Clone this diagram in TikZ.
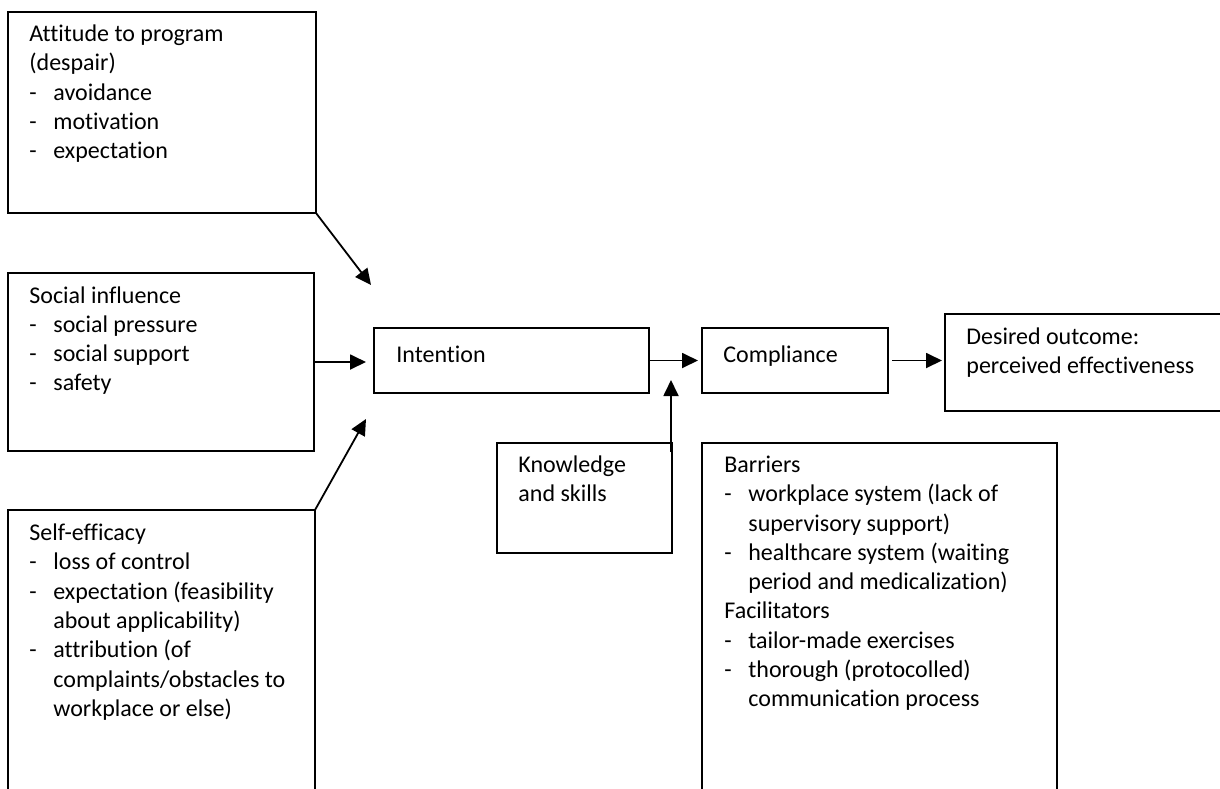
\documentclass[tikz,border=0pt]{standalone}
\usepackage{fontspec}
\setmainfont{Carlito}[Ligatures=NoCommon]
\usetikzlibrary{arrows.meta}
\newcommand\itm{\makebox[12pt][l]{-}}
\newcommand\ind{\hspace*{12pt}}
\begin{document}
\begin{tikzpicture}[x=0.5pt,y=-0.5pt,
  box/.style={draw,line width=0.9pt,anchor=north west,inner sep=0pt,outer sep=0pt},
  txt/.style={anchor=north west,inner sep=0pt,align=left,
    font=\fontsize{12pt}{14.65pt}\selectfont,execute at begin node=\strut},
  arr/.style={line width=0.9pt,-{Triangle[length=8pt,width=7.5pt]}}]
\useasboundingbox (0,0) rectangle (1220,788);
\clip (0,0) rectangle (1220,788);

% boxes
\node[box,minimum width=154pt,minimum height=100.5pt] (att) at (8,12) {};
\node[box,minimum width=153pt,minimum height=89pt] (soc) at (8,273) {};
\node[box,minimum width=153.5pt,minimum height=150pt] (self) at (8,510) {};
\node[box,minimum width=137.5pt,minimum height=32.5pt] (int) at (374,328) {};
\node[box,minimum width=93pt,minimum height=32.5pt] (comp) at (702,328) {};
\node[box,minimum width=150pt,minimum height=48.5pt] (out) at (945,314) {};
\node[box,minimum width=87.5pt,minimum height=55pt] (know) at (497,443) {};
\node[box,minimum width=177.5pt,minimum height=180pt] (bar) at (702,443) {};

% texts
\node[txt] (att-t) at (29,24.5) {Attitude to program\\(despair)\\\itm avoidance\\\itm motivation\\\itm expectation};
\node[txt] (soc-t) at (29,286) {Social influence\\\itm social pressure\\\itm social support\\\itm safety};
\node[txt] (self-t) at (29,523.5) {Self-efficacy\\\itm loss of control\\\itm expectation (feasibility\\\ind about applicability)\\\itm attribution (of\\\ind complaints/obstacles to\\\ind workplace or else)};
\node[txt] (int-t) at (396,341.5) {Intention};
\node[txt] (comp-t) at (723,342) {Compliance};
\node[txt] (out-t) at (966,327) {Desired outcome:\\perceived effectiveness};
\node[txt] (know-t) at (518,455.5) {Knowledge\\and skills};
\node[txt] (bar-t) at (724,455.5) {Barriers\\\itm workplace system (lack of\\\ind supervisory support)\\\itm healthcare system (waiting\\\ind period and medicalization)\\Facilitators\\\itm tailor-made exercises\\\itm thorough (protocolled)\\\ind communication process};

% free arrow ends near the intention box
\coordinate (attTip) at (371,285);
\coordinate (selfTip) at (366,419);
\coordinate (knowTip) at (671,380);

% connectors
\draw[arr] (att.south east) -- (attTip);
\draw[arr] (soc.east) -- ++(52,0);
\draw[arr] (self.north east) -- (selfTip);
\draw[arr] (int.east) -- ([xshift=-2pt]comp.west);
\draw[arr] ([xshift=-0.5pt,yshift=-4.5pt]know.north east) -- (knowTip);
\draw[arr] ([xshift=2pt]comp.east) -- ([xshift=-1.5pt]comp.east -| out.west);
\end{tikzpicture}
\end{document}
